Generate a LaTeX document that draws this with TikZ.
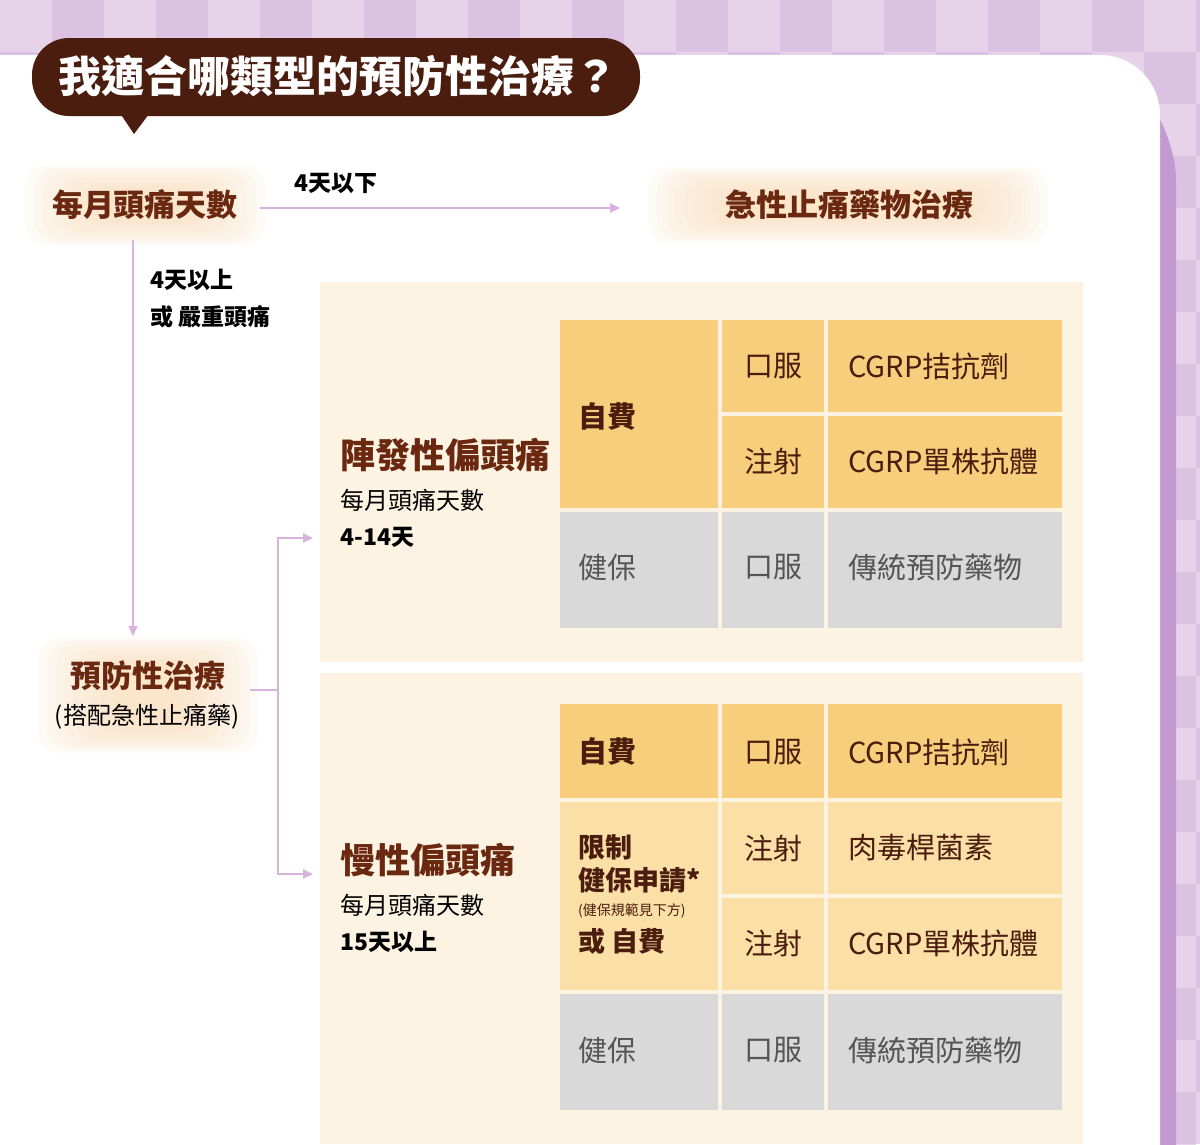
\documentclass[tikz,border=0pt]{standalone}
\usepackage{fontspec}
\setmainfont{Noto Sans CJK TC}
\usetikzlibrary{arrows.meta,calc}
\definecolor{bgA}{HTML}{DCC2E2}
\definecolor{bgB}{HTML}{E6D3EA}
\definecolor{shadowp}{HTML}{C29AD0}
\definecolor{brownD}{HTML}{4A1D0E}
\definecolor{brownT}{HTML}{6B2810}
\definecolor{cream}{HTML}{FDF3E3}
\definecolor{orA}{HTML}{F8CD7B}
\definecolor{orB}{HTML}{FADFA6}
\definecolor{grayC}{HTML}{D9D9D9}
\definecolor{grayT}{HTML}{555555}
\definecolor{lineP}{HTML}{D9B2DD}
\definecolor{glow}{HTML}{FBE0BE}
\begin{document}
\begin{tikzpicture}[x=1pt,y=-1pt,
  conn/.style={lineP,line width=2pt},
  arr/.style={conn,-{Triangle[length=10pt,width=9pt]}},
  lbl/.style={font=\fontsize{23}{26}\selectfont\bfseries,anchor=west,inner sep=0},
  key/.style={font=\fontsize{31}{34}\selectfont\bfseries,text=brownT,inner sep=0},
  sub/.style={font=\fontsize{24}{26}\selectfont,inner sep=0},
  cell/.style={font=\fontsize{29}{32}\selectfont,anchor=west,inner sep=0,text=brownD},
  gcell/.style={cell,text=grayT},
  head/.style={font=\fontsize{35}{38}\selectfont\bfseries,text=brownT,anchor=west,inner sep=0}]
\useasboundingbox (0,0) rectangle (1200,1144);
% background checks
\fill[bgA] (0,0) rectangle (1200,1144);
\foreach \i in {0,...,23}{\foreach \j in {0,...,22}{
  \pgfmathtruncatemacro\mypar{mod(\i+\j,2)}
  \ifnum\mypar=0 \fill[bgB] (\i*52,\j*52) rectangle ++(52,52);\fi}}
\begin{scope}
\clip (0,0) rectangle (1200,1144);
\fill[shadowp,rounded corners=60pt] (-100,62) -- (1112,62) -- (1176,120) -- (1176,1300) -- (-100,1300) -- cycle;
\fill[white,rounded corners=60pt] (-100,55) -- (1160,55) -- (1160,1300) -- (-100,1300) -- cycle;
\end{scope}
% title
\fill[brownD] (118,110) -- (134,134) -- (152,110) -- cycle;
\node[fill=brownD,rounded corners=37pt,minimum width=608pt,minimum height=78pt] (title) at (336,77) {};
\node[text=white,font=\fontsize{43}{46}\selectfont\bfseries,anchor=west,inner sep=0] (titletext) at (58,76) {我適合哪類型的預防性治療？};
% glows
\foreach \cx/\cy/\w/\h in {145/205/240/80,848/205/400/76,148/695/220/115}{
  \foreach \k in {0,...,9}{
    \fill[glow,opacity=0.13,rounded corners=22pt] (\cx-\w/2+\k*9,\cy-\h/2+\k*3) rectangle (\cx+\w/2-\k*9,\cy+\h/2-\k*3);}}
% panels
\fill[cream] (320,282) rectangle (1083,662);
\fill[cream] (320,673) rectangle (1083,1144);
% nodes
\node[key] (days) at (145,205) {每月頭痛天數};
\node[key] (acute) at (849,205) {急性止痛藥物治療};
\node[key] (prev) at (148,676) {預防性治療};
\node[sub] (prevs) at (147,717) {(搭配急性止痛藥)};
\coordinate (dayR) at (260,208);
\coordinate (acuL) at (620,208);
\draw[arr] (dayR) -- (acuL);
\node[lbl] at (294,183) {4天以下};
\coordinate (dayB) at (133,240);
\coordinate (prevT) at (133,636);
\draw[arr] (dayB) -- (prevT);
\node[lbl] at (150,280) {4天以上};
\node[lbl] at (150,317) {或 嚴重頭痛};
\coordinate (pr) at (250,690);
\coordinate (br) at (278,690);
\coordinate (t1) at (313,538);
\coordinate (t2) at (313,874);
\draw[conn] (pr) -- (br);
\draw[arr] (br) |- (t1);
\draw[arr] (br) |- (t2);
% headings
\node[head] (epi) at (340,455) {陣發性偏頭痛};
\node[sub,anchor=west] at (340,500) {每月頭痛天數};
\node[lbl] at (340,537) {4-14天};
\node[head] (chr) at (340,860) {慢性偏頭痛};
\node[sub,anchor=west] at (340,905) {每月頭痛天數};
\node[lbl] at (340,942) {15天以上};
% table 1
\fill[orA] (560,320) rectangle (718,508);
\fill[orA] (722,320) rectangle (824,412);\fill[orA] (828,320) rectangle (1062,412);
\fill[orA] (722,416) rectangle (824,508);\fill[orA] (828,416) rectangle (1062,508);
\fill[grayC] (560,512) rectangle (718,628);\fill[grayC] (722,512) rectangle (824,628);\fill[grayC] (828,512) rectangle (1062,628);
\node[cell,font=\fontsize{29}{32}\selectfont\bfseries] at (578,417) {自費};
\node[cell] at (744,366) {口服};\node[cell] at (848,366) {CGRP拮抗劑};
\node[cell] at (744,461) {注射};\node[cell] at (848,461) {CGRP單株抗體};
\node[gcell] at (578,567) {健保};\node[gcell] at (744,567) {口服};\node[gcell] at (848,567) {傳統預防藥物};
% table 2
\fill[orA] (560,704) rectangle (718,798);\fill[orA] (722,704) rectangle (824,798);\fill[orA] (828,704) rectangle (1062,798);
\fill[orB] (560,802) rectangle (718,990);
\fill[orB] (722,802) rectangle (824,894);\fill[orB] (828,802) rectangle (1062,894);
\fill[orB] (722,898) rectangle (824,990);\fill[orB] (828,898) rectangle (1062,990);
\fill[grayC] (560,994) rectangle (718,1110);\fill[grayC] (722,994) rectangle (824,1110);\fill[grayC] (828,994) rectangle (1062,1110);
\node[cell,font=\fontsize{29}{32}\selectfont\bfseries] at (578,752) {自費};
\node[cell] at (744,752) {口服};\node[cell] at (848,752) {CGRP拮抗劑};
\node[cell,font=\fontsize{27}{30}\selectfont\bfseries] at (578,847) {限制};
\node[cell,font=\fontsize{27}{30}\selectfont\bfseries] at (578,880) {健保申請*};
\node[cell,font=\fontsize{14}{16}\selectfont] at (578,911) {(健保規範見下方)};
\node[cell,font=\fontsize{27}{30}\selectfont\bfseries] at (578,941) {或 自費};
\node[cell] at (744,848) {注射};\node[cell] at (848,848) {肉毒桿菌素};
\node[cell] at (744,943) {注射};\node[cell] at (848,943) {CGRP單株抗體};
\node[gcell] at (578,1050) {健保};\node[gcell] at (744,1050) {口服};\node[gcell] at (848,1050) {傳統預防藥物};
\end{tikzpicture}
\end{document}
